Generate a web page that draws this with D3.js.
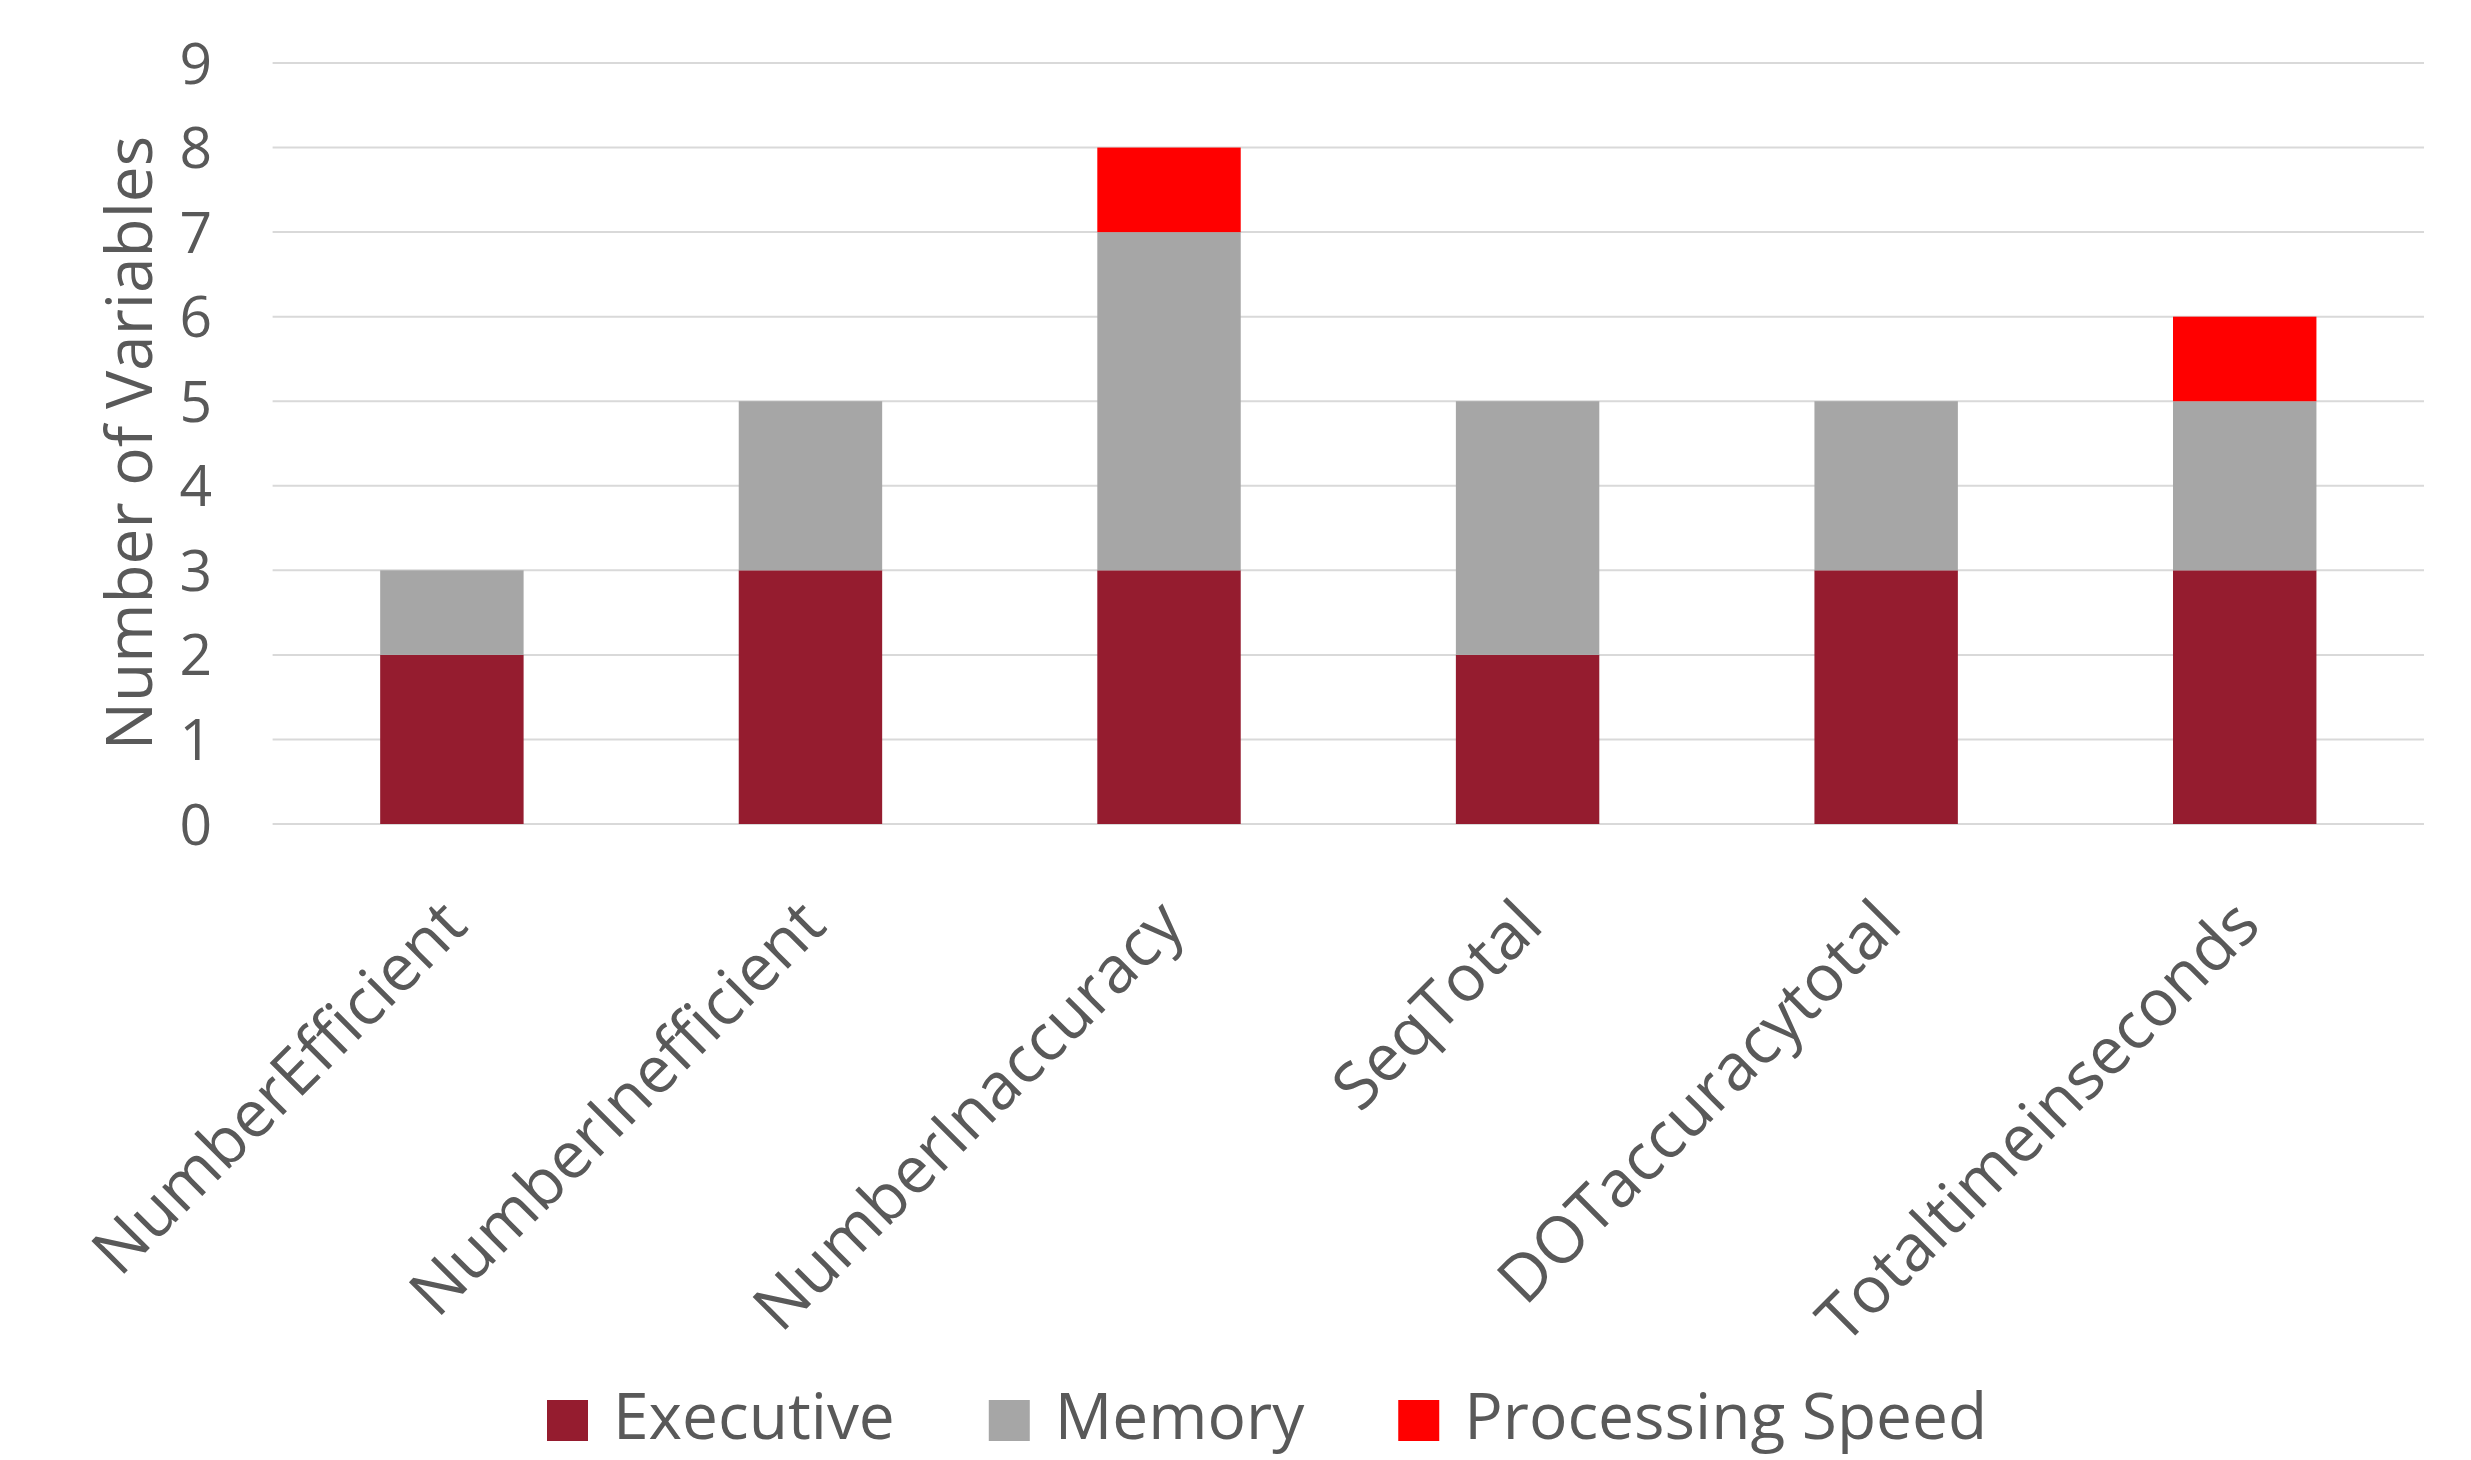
<!DOCTYPE html>
<meta charset="utf-8">
<style>
body { margin: 0; background: #fff; }
text { font-family: "Open Sans", sans-serif; fill: #595959; }
.grid line { stroke: #d9d9d9; stroke-width: 2; }
</style>
<body>
<svg width="2471" height="1460"></svg>
<script src="https://d3js.org/d3.v7.min.js"></script>
<script>

var categories = ["NumberEfficient", "NumberInefficient", "NumberInaccuracy", "SeqTotal", "DOTaccuracytotal", "Totaltimeinseconds"];
var seriesNames = ["Executive", "Memory", "Processing Speed"];
var executive = [2, 3, 3, 2, 3, 3];
var memory = [1, 2, 4, 3, 2, 2];
var processingSpeed = [0, 0, 1, 0, 0, 1];
var yTicks = [0, 1, 2, 3, 4, 5, 6, 7, 8, 9];
var colors = ["#951c2f", "#a6a6a6", "#ff0000"];

var svg = d3.select("svg");

var x = d3.scaleBand()
    .domain(categories)
    .range([272.6, 2424])
    .paddingInner(0.6)
    .paddingOuter(0.3);

var y = d3.scaleLinear()
    .domain([0, 9])
    .range([824, 63]);

var rows = categories.map(function(c, i) {
  return { cat: c, "Executive": executive[i], "Memory": memory[i], "Processing Speed": processingSpeed[i] };
});

var stack = d3.stack().keys(seriesNames)(rows);

// gridlines
svg.append("g")
    .attr("class", "grid")
  .selectAll("line")
  .data(yTicks)
  .enter().append("line")
    .attr("x1", x.range()[0])
    .attr("x2", x.range()[1])
    .attr("y1", function(d) { return y(d); })
    .attr("y2", function(d) { return y(d); });

// y tick labels
svg.append("g")
  .selectAll("text")
  .data(yTicks)
  .enter().append("text")
    .attr("x", 212)
    .attr("y", function(d) { return y(d); })
    .attr("dy", "0.36em")
    .attr("text-anchor", "end")
    .style("font-size", "57px")
    .text(function(d) { return d; });

// bars
svg.append("g")
  .selectAll("g")
  .data(stack)
  .enter().append("g")
    .attr("fill", function(d, i) { return colors[i]; })
  .selectAll("rect")
  .data(function(d) { return d.filter(function(p) { return p[1] > p[0]; }); })
  .enter().append("rect")
    .attr("x", function(d) { return x(d.data.cat); })
    .attr("width", x.bandwidth())
    .attr("y", function(d) { return y(d[1]); })
    .attr("height", function(d) { return y(d[0]) - y(d[1]); });

// category labels
svg.append("g")
  .selectAll("text")
  .data(categories)
  .enter().append("text")
    .attr("transform", function(d) {
      return "translate(" + (x(d) + x.bandwidth() / 2 + 2) + "," + 912 + ") rotate(-45)";
    })
    .attr("dy", "0.35em")
    .attr("text-anchor", "end")
    .style("font-size", "65px")
    .text(function(d) { return d; });

// y axis title
svg.append("text")
    .attr("transform", "translate(152,443) rotate(-90)")
    .attr("text-anchor", "middle")
    .style("font-size", "64px")
    .text("Number of Variables");

// legend
var legend = svg.append("g");
var lx = 547;
seriesNames.forEach(function(name, i) {
  var item = legend.append("g").attr("transform", "translate(" + lx + ",0)");
  item.append("rect")
      .attr("x", 0)
      .attr("y", 1400)
      .attr("width", 41)
      .attr("height", 41)
      .attr("fill", colors[i]);
  var t = item.append("text")
      .attr("x", 66)
      .attr("y", 1439)
      .style("font-size", "64px")
      .text(name);
  lx += 66 + t.node().getComputedTextLength() + 94;
});

</script>
</body>
